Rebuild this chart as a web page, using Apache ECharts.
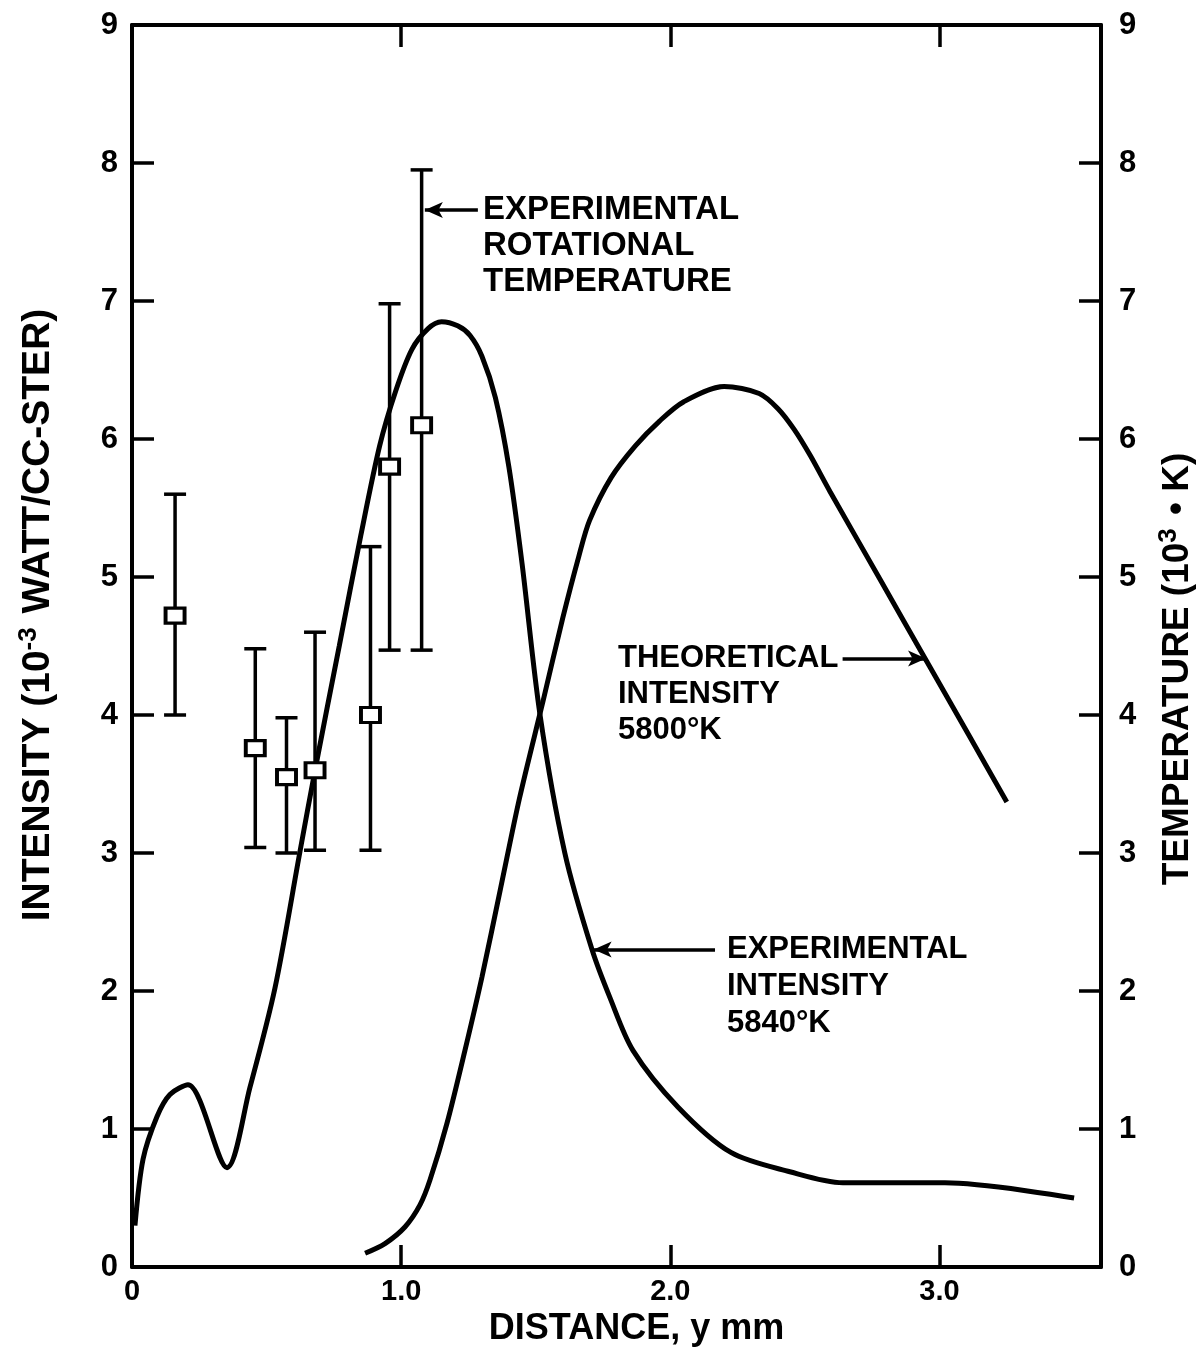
<!DOCTYPE html>
<html>
<head>
<meta charset="utf-8">
<script src="https://cdn.jsdelivr.net/npm/echarts@6/dist/echarts.min.js"></script>
<style>
  html, body { margin: 0; padding: 0; background: #fff; }
  #chart { width: 1198px; height: 1355px; }
</style>
</head>
<body>
<div id="chart"></div>
<script>
// distance y (mm) vs experimental intensity
const expDist = [0.011, 0.041, 0.093, 0.141, 0.208, 0.353, 0.438, 0.531, 0.624, 0.68, 0.77, 0.85, 0.92, 0.98, 1.04, 1.10, 1.15, 1.21, 1.256, 1.30, 1.35, 1.40, 1.449, 1.516, 1.608, 1.709, 1.776, 1.861, 2.028, 2.225, 2.444, 2.641, 3.02, 3.50];
const expIntensity = [0.30, 0.78, 1.09, 1.25, 1.32, 0.72, 1.3, 2.02, 3.01, 3.6, 4.5, 5.3, 5.95, 6.35, 6.65, 6.80, 6.85, 6.82, 6.75, 6.6, 6.3, 5.8, 5.1, 4.0, 3.0, 2.3, 1.95, 1.57, 1.16, 0.83, 0.69, 0.61, 0.61, 0.5];

// theoretical intensity 5800 K
const theoDist = [0.866, 0.94, 1.014, 1.07, 1.107, 1.17, 1.237, 1.30, 1.37, 1.44, 1.527, 1.60, 1.66, 1.70, 1.78, 1.87, 1.96, 2.05, 2.2, 2.33, 2.40, 2.46, 2.52, 2.593, 2.78, 2.955, 3.113, 3.25];
const theoIntensity = [0.10, 0.17, 0.29, 0.45, 0.63, 1.04, 1.57, 2.1, 2.75, 3.4, 4.1, 4.7, 5.15, 5.41, 5.72, 5.95, 6.13, 6.27, 6.38, 6.33, 6.22, 6.07, 5.88, 5.62, 4.98, 4.38, 3.84, 3.37];

// experimental rotational temperature (10^3 K) with error bars
const tempDist = [0.16, 0.458, 0.574, 0.68, 0.886, 0.957, 1.076];
const tempValue = [4.72, 3.76, 3.55, 3.6, 4.0, 5.8, 6.1];
const tempLow = [4.0, 3.04, 3.0, 3.02, 3.02, 4.47, 4.47];
const tempHigh = [5.6, 4.48, 3.98, 4.6, 5.22, 6.98, 7.95];

const xTicks = [0, 1, 2, 3];
const yTicks = [0, 1, 2, 3, 4, 5, 6, 7, 8, 9];

const FONT = 'Liberation Sans';
const INK = '#000';

const chart = echarts.init(document.getElementById('chart'));

const axisLine = { show: true, onZero: false, lineStyle: { color: INK, width: 4 } };
const tickIn = { show: true, inside: true, length: 22, lineStyle: { color: INK, width: 3.5 } };
const supStyle = { fontFamily: FONT, fontWeight: 'bold', fontSize: 26, verticalAlign: 'top', padding: [0, 3, 18, 0] };

const option = {
  backgroundColor: '#fff',
  animation: false,
  grid: { left: 132, right: 97, top: 25, bottom: 88, containLabel: false, outerBoundsMode: 'none' },
  xAxis: [
    {
      type: 'value', position: 'bottom', min: 0, max: 3.6, interval: 1,
      axisLine, axisTick: tickIn, splitLine: { show: false },
      axisLabel: {
        color: INK, fontFamily: FONT, fontWeight: 'bold', fontSize: 29, margin: 10,
        showMaxLabel: false,
        formatter: v => (xTicks.indexOf(v) < 0 ? '' : (v === 0 ? '0' : v.toFixed(1)))
      },
      name: 'DISTANCE, y mm', nameLocation: 'middle', nameGap: 43,
      nameTextStyle: { color: INK, fontFamily: FONT, fontWeight: 'bold', fontSize: 36, padding: [0, 0, 0, 40] }
    },
    {
      type: 'value', position: 'top', min: 0, max: 3.6, interval: 1,
      axisLine, axisTick: tickIn, axisLabel: { show: false }, splitLine: { show: false }
    }
  ],
  yAxis: [
    {
      type: 'value', position: 'left', min: 0, max: 9, interval: 1,
      axisLine, axisTick: tickIn, splitLine: { show: false },
      axisLabel: {
        color: INK, fontFamily: FONT, fontWeight: 'bold', fontSize: 31, margin: 14,
        formatter: v => (yTicks.indexOf(v) < 0 ? '' : String(v))
      },
      name: 'INTENSITY (10{sup|-3} WATT/CC-STER)', nameLocation: 'middle', nameGap: 72,
      nameTextStyle: {
        color: INK, fontFamily: FONT, fontWeight: 'bold', fontSize: 39, padding: [0, 0, 0, 62],
        rich: { sup: supStyle }
      }
    },
    {
      type: 'value', position: 'right', min: 0, max: 9, interval: 1,
      axisLine, axisTick: tickIn, splitLine: { show: false },
      axisLabel: {
        color: INK, fontFamily: FONT, fontWeight: 'bold', fontSize: 31, margin: 18,
        formatter: v => (yTicks.indexOf(v) < 0 ? '' : String(v))
      },
      name: 'TEMPERATURE (10{sup|3} • K)', nameLocation: 'middle', nameGap: 55,
      nameTextStyle: {
        color: INK, fontFamily: FONT, fontWeight: 'bold', fontSize: 37, padding: [0, 46, 0, 0],
        rich: { sup: supStyle }
      }
    }
  ],
  series: [
    {
      name: 'Experimental intensity', type: 'line', xAxisIndex: 0, yAxisIndex: 0,
      data: expDist.map((x, i) => [x, expIntensity[i]]),
      smooth: 0.3, showSymbol: false, silent: true,
      lineStyle: { color: INK, width: 5 }, z: 3
    },
    {
      name: 'Theoretical intensity', type: 'line', xAxisIndex: 0, yAxisIndex: 0,
      data: theoDist.map((x, i) => [x, theoIntensity[i]]),
      smooth: 0.3, showSymbol: false, silent: true,
      lineStyle: { color: INK, width: 5 }, z: 3,
      markLine: {
        silent: true, symbol: ['none', 'arrow'], symbolSize: [12, 18],
        label: { show: false },
        lineStyle: { color: INK, width: 3.5, type: 'solid' },
        data: [
          [{ coord: [1.285, 7.66] }, { coord: [1.088, 7.66] }],
          [{ coord: [2.64, 4.41] }, { coord: [2.95, 4.41] }],
          [{ coord: [2.166, 2.30] }, { coord: [1.715, 2.30] }]
        ]
      }
    },
    {
      name: 'Rotational temperature range', type: 'custom', xAxisIndex: 0, yAxisIndex: 1,
      data: tempDist.map((x, i) => [x, tempLow[i], tempHigh[i]]),
      silent: true, z: 4,
      renderItem: (params, api) => {
        const lo = api.coord([api.value(0), api.value(1)]);
        const hi = api.coord([api.value(0), api.value(2)]);
        const cap = 11;
        const style = { stroke: INK, lineWidth: 3.5 };
        return {
          type: 'group',
          children: [
            { type: 'line', shape: { x1: lo[0], y1: lo[1], x2: hi[0], y2: hi[1] }, style },
            { type: 'line', shape: { x1: lo[0] - cap, y1: lo[1], x2: lo[0] + cap, y2: lo[1] }, style },
            { type: 'line', shape: { x1: hi[0] - cap, y1: hi[1], x2: hi[0] + cap, y2: hi[1] }, style }
          ]
        };
      }
    },
    {
      name: 'Rotational temperature', type: 'scatter', xAxisIndex: 0, yAxisIndex: 1,
      data: tempDist.map((x, i) => [x, tempValue[i]]),
      symbol: 'rect', symbolSize: [19, 15], silent: true, z: 5,
      itemStyle: { color: '#fff', borderColor: INK, borderWidth: 3.5, opacity: 1 }
    }
  ],
  graphic: [
    {
      type: 'text', left: 483, top: 192,
      style: { text: 'EXPERIMENTAL\nROTATIONAL\nTEMPERATURE', fill: INK, font: 'bold 33px "Liberation Sans"', lineHeight: 36 }
    },
    {
      type: 'text', left: 618, top: 640,
      style: { text: 'THEORETICAL\nINTENSITY\n5800°K', fill: INK, font: 'bold 31px "Liberation Sans"', lineHeight: 36 }
    },
    {
      type: 'text', left: 727, top: 931,
      style: { text: 'EXPERIMENTAL\nINTENSITY\n5840°K', fill: INK, font: 'bold 31px "Liberation Sans"', lineHeight: 37 }
    }
  ]
};

chart.setOption(option);
</script>
</body>
</html>
